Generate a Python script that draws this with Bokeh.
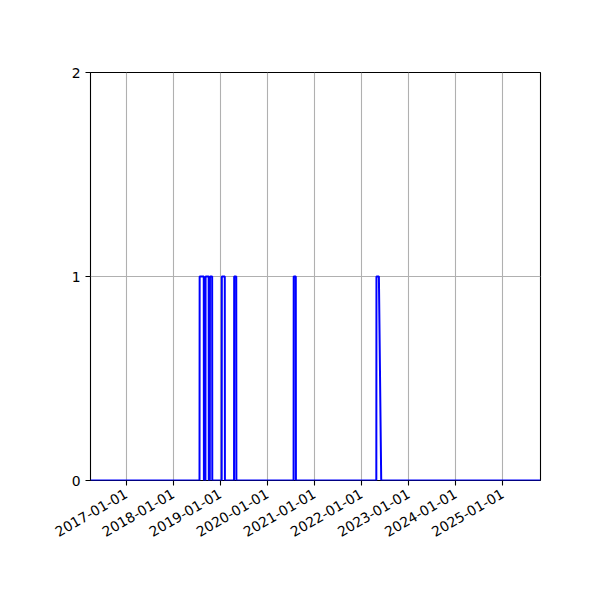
from datetime import datetime
from math import pi

from bokeh.plotting import figure
from bokeh.models import FixedTicker, DatetimeTickFormatter, Range1d
from bokeh.embed import file_html
from bokeh.resources import INLINE

# step series: 0 everywhere, 1 during short periods
dates = ["2016-03-30",
         "2018-07-24", "2018-07-25", "2018-08-26", "2018-08-27",
         "2018-09-08", "2018-09-09", "2018-10-03", "2018-10-04",
         "2018-10-12", "2018-10-13", "2018-10-30", "2018-10-31",
         "2019-01-12", "2019-01-13", "2019-02-05", "2019-02-06",
         "2019-04-18", "2019-04-19", "2019-05-05", "2019-05-06",
         "2020-07-23", "2020-07-24", "2020-08-09", "2020-08-10",
         "2022-04-26", "2022-04-27", "2022-05-16", "2022-06-03",
         "2025-10-21"]
values = [0,
          0, 1, 1, 0,
          0, 1, 1, 0,
          0, 1, 1, 0,
          0, 1, 1, 0,
          0, 1, 1, 0,
          0, 1, 1, 0,
          0, 1, 1, 0,
          0]
tick_years = [2017, 2018, 2019, 2020, 2021, 2022, 2023, 2024, 2025]
y_ticks = [0, 1, 2]

x = [datetime.strptime(d, "%Y-%m-%d") for d in dates]
tick_ms = [datetime(y, 1, 1).timestamp() * 1000 for y in tick_years]

p = figure(width=600, height=600, x_axis_type="datetime",
           x_range=Range1d(x[0], x[-1]), y_range=Range1d(0, 2),
           output_backend="svg", toolbar_location=None,
           min_border_left=90, min_border_right=60,
           min_border_top=72, min_border_bottom=120)

p.line(x, values, line_color="blue", line_width=2)

p.outline_line_color = "black"
p.outline_line_width = 1.1

for ax in (p.xaxis, p.yaxis):
    ax.axis_line_color = None
    ax.major_tick_out = 5
    ax.major_tick_in = 0
    ax.major_tick_line_width = 1.1
    ax.minor_tick_line_color = None
    ax.major_label_text_font = "DejaVu Sans"
    ax.major_label_text_font_size = "13.9px"
    ax.major_label_text_color = "black"

p.xaxis.ticker = FixedTicker(ticks=tick_ms)
p.xaxis.formatter = DatetimeTickFormatter(years="%Y-%m-%d", months="%Y-%m-%d",
                                          days="%Y-%m-%d")
p.xaxis.major_label_orientation = pi / 6
p.xaxis.major_label_standoff = 7
p.yaxis.ticker = FixedTicker(ticks=y_ticks)

for g in (p.xgrid, p.ygrid):
    g.grid_line_color = "#b0b0b0"
    g.grid_line_width = 1.1
p.xgrid.ticker = FixedTicker(ticks=tick_ms)
p.ygrid.ticker = FixedTicker(ticks=y_ticks)

open("out.html", "w").write(file_html(p, INLINE))
